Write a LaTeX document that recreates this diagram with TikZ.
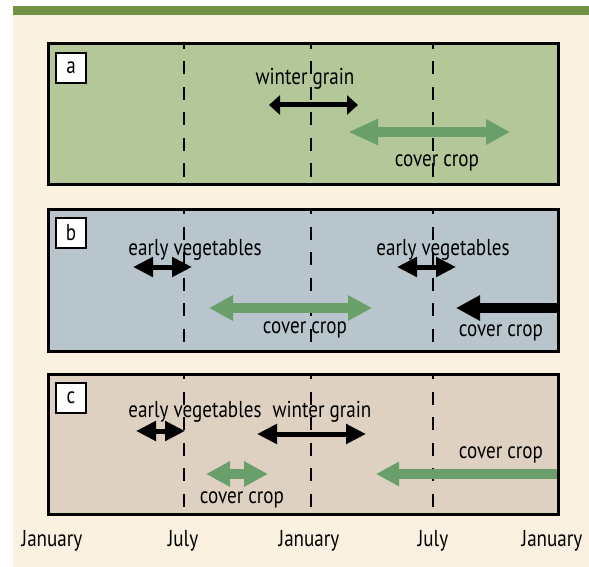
\documentclass[tikz,border=0pt]{standalone}
\usepackage{fontspec}
\usepackage{xcolor}
\usetikzlibrary{arrows.meta,positioning}
\newfontfamily\cropfamily{PT Sans}[FakeStretch=0.83]
\definecolor{oliveband}{HTML}{6F9244}
\definecolor{cream}{HTML}{FAF1E0}
\definecolor{fielda}{HTML}{B3C799}
\definecolor{fieldb}{HTML}{B8C5CC}
\definecolor{fieldc}{HTML}{DED1C1}
\definecolor{covergreen}{HTML}{6A9F6C}
\tikzset{
  panel/.style={draw=black,line width=3pt},
  monthline/.style={draw=black,line width=2.8pt,
                    dash pattern=on 13pt off 12.5pt,dash phase=8pt},
  croplabel/.style={anchor=base,inner sep=0pt,
                    font=\cropfamily\fontsize{23pt}{26pt}\selectfont},
  tagbox/.style={draw=black,fill=white,line width=2pt,minimum size=30pt,
                 inner sep=0pt,font=\cropfamily\fontsize{23pt}{26pt}\selectfont},
  grainarr/.style={draw=black,line width=5pt,
                   {Triangle[length=20pt,width=19pt]}-{Triangle[length=20pt,width=19pt]}},
  greenarr/.style={draw=covergreen,line width=10pt,
                   {Triangle[length=24pt,width=24pt]}-{Triangle[length=24pt,width=24pt]}}
}

\begin{document}
\begin{tikzpicture}[x=1pt,y=-1pt]
    \path[use as bounding box] (0,0) rectangle (589,567);
    \fill[white] (0,0) rectangle (589,567);
    \fill[cream] (13,15) rectangle (589,567);
    \fill[oliveband] (13,6) rectangle (589,15);

    % panels
    \fill[fielda] (48,44) rectangle (558,184);
    \fill[fieldb] (48,209) rectangle (558,351);
    \fill[fieldc] (48,374) rectangle (558,514);
    \foreach \mx in {184,311,433} {
      \draw[monthline] (\mx,44) -- (\mx,184);
      \draw[monthline] (\mx,209) -- (\mx,351);
      \draw[monthline] (\mx,374) -- (\mx,514);
    }

    % a
    \draw[draw=black,line width=5pt,
          {Triangle[length=11pt,width=19pt]}-{Triangle[length=11pt,width=19pt]}]
      (269,105) -- (358,105);
    \draw[draw=covergreen,line width=10pt,
          {Triangle[length=30pt,width=24pt]}-{Triangle[length=24pt,width=24pt]}]
      (348,132) -- (510,132);
    \node[croplabel] (graina) at (305,85) {winter grain};
    \node[croplabel] (covera) at (437,166.5) {cover crop};

    % b
    \draw[grainarr] (133,267) -- (192,267);
    \draw[grainarr] (397,267) -- (456,267);
    \draw[greenarr] (209,308) -- (372,308);
    \draw[draw=black,line width=10pt,{Triangle[length=24pt,width=24pt]}-]
      (456,308) -- (558,308);
    \node[croplabel] (vegb1) at (195,255) {early vegetables};
    \node[croplabel] (vegb2) at (443,255) {early vegetables};
    \node[croplabel] (coverb1) at (305,333) {cover crop};
    \node[croplabel] (coverb2) at (501,336.5) {cover crop};

    % c
    \draw[grainarr] (136,431) -- (185,431);
    \draw[grainarr] (257,434) -- (366,434);
    \draw[greenarr] (206,474) -- (268,474);
    \draw[draw=covergreen,line width=10pt,{Triangle[length=23pt,width=23pt]}-]
      (376,474) -- (558,474);
    \node[croplabel] (vegc) at (195,417) {early vegetables};
    \node[croplabel] (grainc) at (322,417) {winter grain};
    \node[croplabel] (coverc1) at (242,503) {cover crop};
    \node[croplabel] (coverc2) at (501,458) {cover crop};

    % borders and tags
    \draw[panel] (48,44) rectangle (558,184);
    \draw[panel] (48,209) rectangle (558,351);
    \draw[panel] (48,374) rectangle (558,514);
    \node[tagbox] (taga) at (71,68) {a};
    \node[tagbox] (tagb) at (71,233) {b};
    \node[tagbox] (tagc) at (71,397.5) {c};

    % months
    \node[croplabel] (jan1) at (52,546) {January};
    \node[croplabel] (jul1) at (183,546) {July};
    \node[croplabel] (jan2) at (309,546) {January};
    \node[croplabel] (jul2) at (433,546) {July};
    \node[croplabel] (jan3) at (552,546) {January};
  \end{tikzpicture}
\end{document}
